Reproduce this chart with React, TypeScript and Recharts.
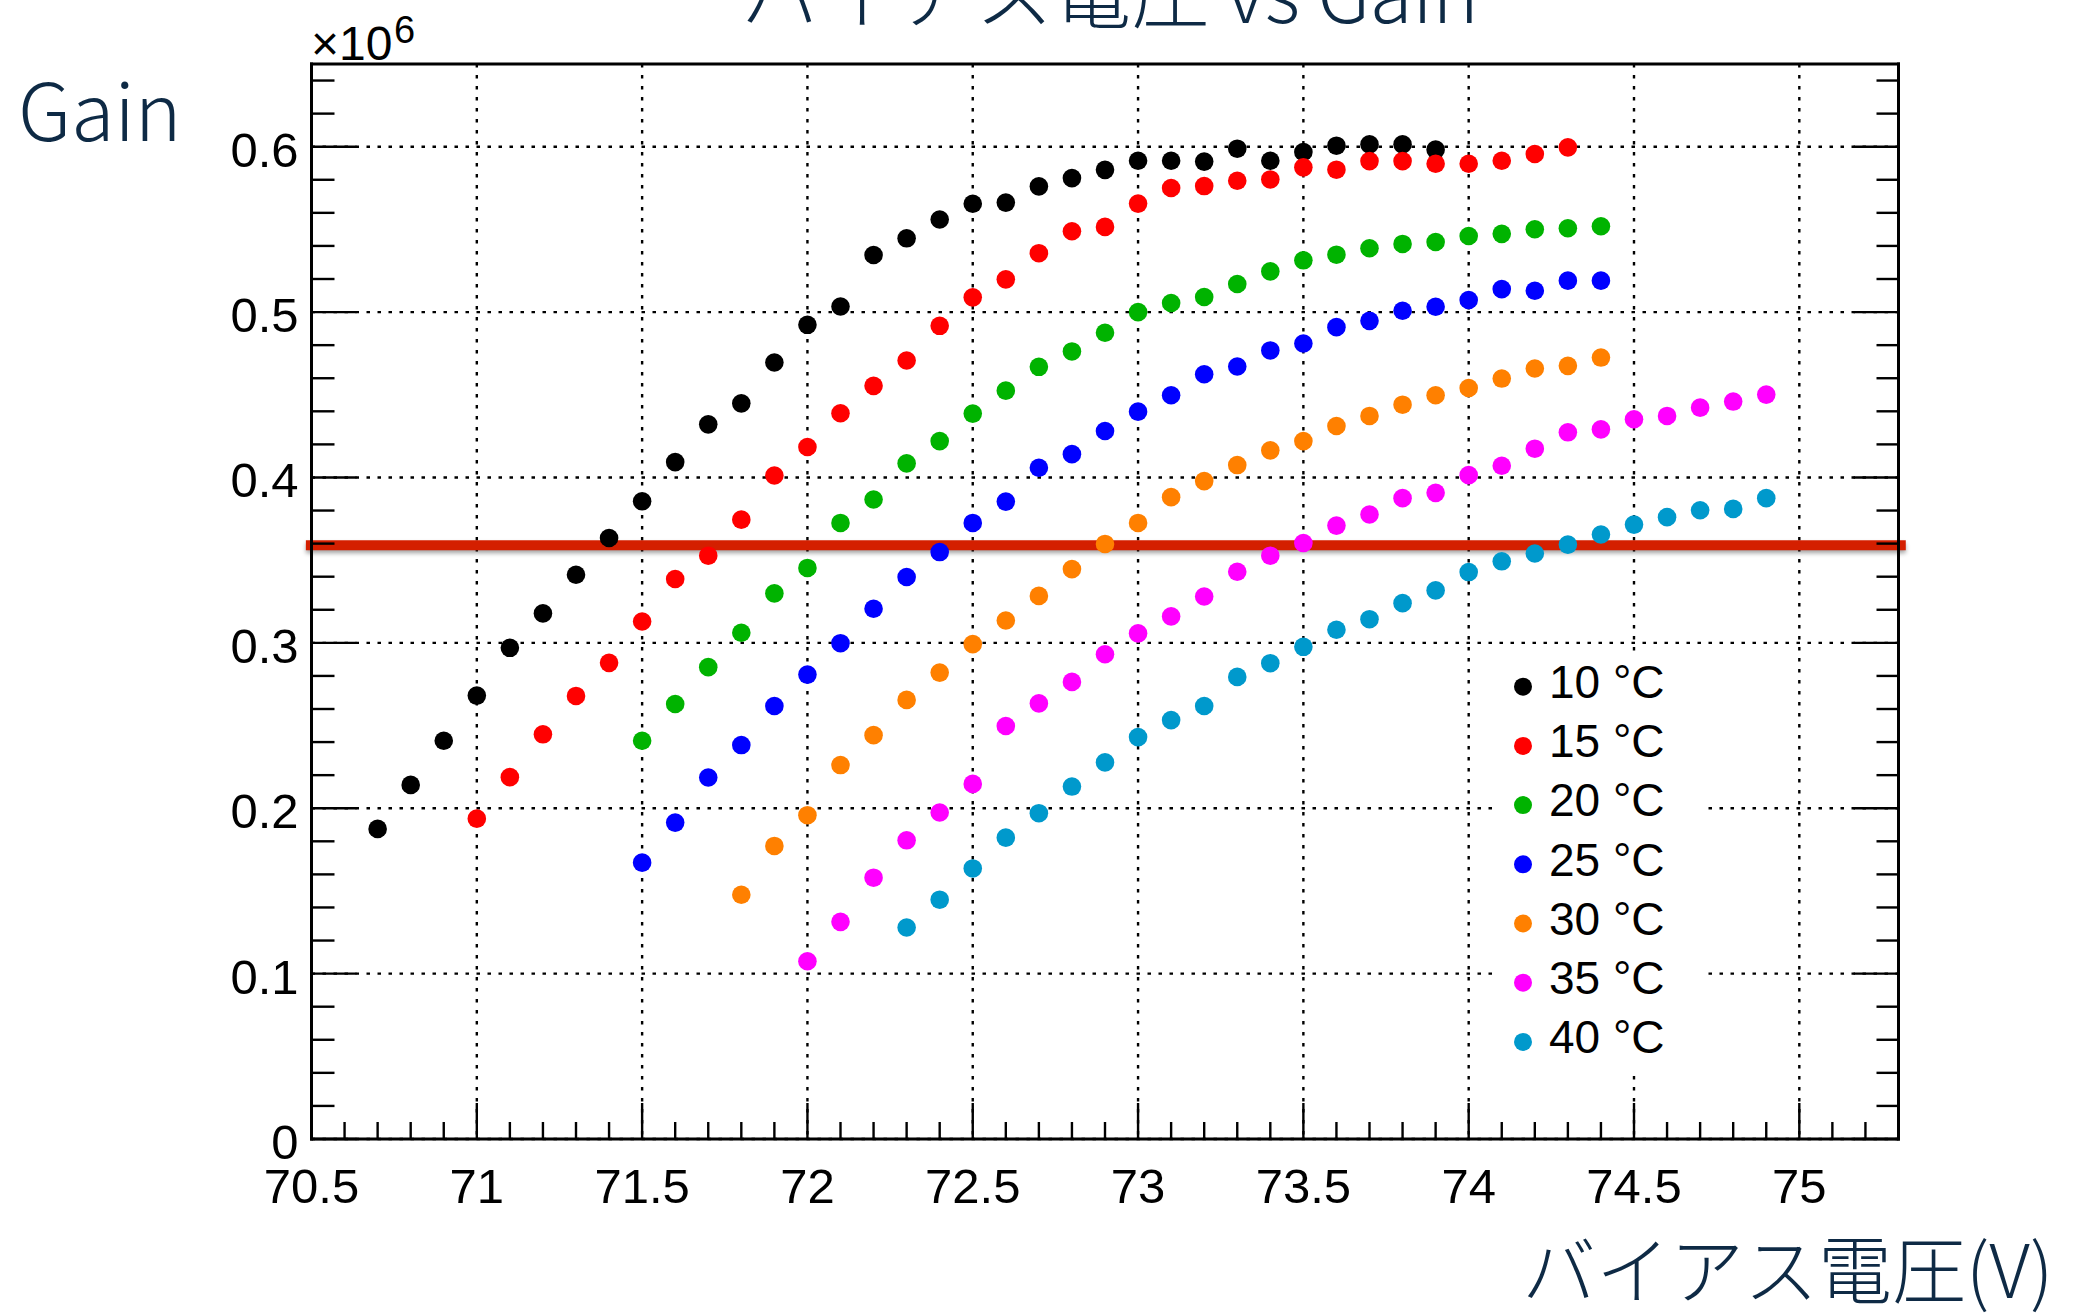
import { ScatterChart, Scatter, XAxis, YAxis, CartesianGrid, ReferenceLine } from "recharts";

// bias voltage steps shared by every temperature run (V)
const VOLTAGES = [
  70.7, 70.8, 70.9, 71.0, 71.1, 71.2, 71.3, 71.4, 71.5, 71.6, 71.7, 71.8, 71.9, 72.0, 72.1,
  72.2, 72.3, 72.4, 72.5, 72.6, 72.7, 72.8, 72.9, 73.0, 73.1, 73.2, 73.3, 73.4, 73.5, 73.6,
  73.7, 73.8, 73.9, 74.0, 74.1, 74.2, 74.3, 74.4, 74.5, 74.6, 74.7, 74.8, 74.9,
];

// gain in units of 10^6, one entry per voltage step starting at the run's first voltage
const GAIN_10C = [
  0.1875, 0.2141, 0.2408, 0.2681, 0.297, 0.3178, 0.3412, 0.3634, 0.3856, 0.4093, 0.4321,
  0.4448, 0.4695, 0.4923, 0.5034, 0.5345, 0.5446, 0.556, 0.5655, 0.5662, 0.576, 0.581,
  0.586, 0.5915, 0.5915, 0.591, 0.5988, 0.5915, 0.5968, 0.6006, 0.6014, 0.6014, 0.5982,
];
const GAIN_15C = [
  0.1937, 0.2188, 0.2447, 0.2679, 0.2879, 0.3129, 0.3386, 0.3527, 0.3745, 0.4012, 0.4184,
  0.4388, 0.4554, 0.4707, 0.4917, 0.5089, 0.5198, 0.5356, 0.5489, 0.5515, 0.5656, 0.575,
  0.5762, 0.5794, 0.5802, 0.5875, 0.5861, 0.5913, 0.5913, 0.5897, 0.5897, 0.5915, 0.5956,
  0.5996,
];
const GAIN_20C = [
  0.2408, 0.263, 0.2853, 0.3061, 0.3299, 0.3453, 0.3725, 0.3867, 0.4085, 0.422, 0.4386,
  0.4525, 0.4669, 0.4762, 0.4875, 0.5, 0.5055, 0.5091, 0.517, 0.5246, 0.5313, 0.5347,
  0.5386, 0.5412, 0.5424, 0.546, 0.5473, 0.5501, 0.5507, 0.5519,
];
const GAIN_25C = [
  0.1671, 0.1913, 0.2186, 0.2382, 0.2618, 0.2808, 0.2998, 0.3206, 0.3398, 0.3549, 0.3725,
  0.3854, 0.4059, 0.4141, 0.4281, 0.4398, 0.4497, 0.4624, 0.4671, 0.4768, 0.481, 0.4909,
  0.4947, 0.5008, 0.5032, 0.5073, 0.5139, 0.5129, 0.519, 0.519,
];
const GAIN_30C = [
  0.1477, 0.1772, 0.1958, 0.2261, 0.2442, 0.2655, 0.282, 0.2992, 0.3135, 0.3284, 0.3446,
  0.3598, 0.3725, 0.3881, 0.3978, 0.4075, 0.4164, 0.422, 0.4311, 0.4372, 0.444, 0.4497,
  0.4541, 0.4598, 0.4659, 0.4675, 0.4725,
];
const GAIN_35C = [
  0.1075, 0.1313, 0.158, 0.1806, 0.1974, 0.2147, 0.2497, 0.2634, 0.2764, 0.2931, 0.3057,
  0.316, 0.328, 0.343, 0.3527, 0.3604, 0.3709, 0.3776, 0.3875, 0.3907, 0.4014, 0.4071,
  0.4174, 0.4273, 0.4291, 0.4352, 0.4372, 0.4422, 0.4459, 0.4501,
];
const GAIN_40C = [
  0.1279, 0.1447, 0.1636, 0.1822, 0.197, 0.2131, 0.2277, 0.243, 0.2533, 0.2618, 0.2794,
  0.2877, 0.2976, 0.3079, 0.3143, 0.324, 0.3317, 0.3428, 0.3493, 0.354, 0.3594, 0.3655,
  0.3715, 0.376, 0.3802, 0.381, 0.3875,
];

const SERIES = [
  { name: "10 °C", color: "#000000", from: 70.7, gains: GAIN_10C },
  { name: "15 °C", color: "#ff0000", from: 71.0, gains: GAIN_15C },
  { name: "20 °C", color: "#00b300", from: 71.5, gains: GAIN_20C },
  { name: "25 °C", color: "#0000ff", from: 71.5, gains: GAIN_25C },
  { name: "30 °C", color: "#ff8000", from: 71.8, gains: GAIN_30C },
  { name: "35 °C", color: "#ff00ff", from: 72.0, gains: GAIN_35C },
  { name: "40 °C", color: "#0099cc", from: 72.3, gains: GAIN_40C },
];

const X_DOMAIN = [70.5, 75.3];
const Y_DOMAIN = [0, 0.65];
const X_MAJOR = [70.5, 71, 71.5, 72, 72.5, 73, 73.5, 74, 74.5, 75];
const Y_MAJOR = [0, 0.1, 0.2, 0.3, 0.4, 0.5, 0.6];

// target gain marked across the plot
const TARGET_GAIN = 0.359;
const TARGET_SPAN = [70.483, 75.322];

const W = 2079;
const H = 1314;
const NUM_FONT = '"Liberation Sans", Arial, Helvetica, sans-serif';
const JP_FONT = '"Noto Sans CJK JP", "Noto Sans", sans-serif';
const NAVY = "#0e2a45";

const round = (v: number, d: number) => Math.round(v * 10 ** d) / 10 ** d;
const xTicks: number[] = [];
for (let i = 0; i <= 48; i++) xTicks.push(round(X_DOMAIN[0] + i * 0.1, 1));
const yTicks: number[] = [];
for (let i = 0; i <= 32; i++) yTicks.push(round(i * 0.02, 2));

const isXMajor = (v: number) => X_MAJOR.some((m) => Math.abs(m - v) < 1e-6);
const isYMajor = (v: number) => Y_MAJOR.some((m) => Math.abs(m - v) < 1e-6);

const seriesData = SERIES.map((s) => {
  const start = VOLTAGES.indexOf(s.from);
  return s.gains.map((g, i) => ({ v: VOLTAGES[start + i], g }));
});

const TICK_STROKE = 2.4;

function BottomTick(props: any) {
  const { x, y, payload } = props;
  const major = isXMajor(payload.value);
  return (
    <g>
      <line x1={x} y1={y} x2={x} y2={y - (major ? 36 : 17)} stroke="#000" strokeWidth={TICK_STROKE} />
      {major && (
        <text x={x} y={y + 64} textAnchor="middle" fontSize={49} fontFamily={NUM_FONT} fill="#000">
          {String(payload.value)}
        </text>
      )}
    </g>
  );
}

function TopTick(props: any) {
  const { x, y, payload } = props;
  const major = isXMajor(payload.value);
  return <line x1={x} y1={y} x2={x} y2={y + (major ? 35 : 16)} stroke="#000" strokeWidth={TICK_STROKE} />;
}

function LeftTick(props: any) {
  const { x, y, payload } = props;
  const major = isYMajor(payload.value);
  return (
    <g>
      <line x1={x} y1={y} x2={x + (major ? 45 : 23)} y2={y} stroke="#000" strokeWidth={TICK_STROKE} />
      {major && (
        <text x={x - 13} y={y + 20} textAnchor="end" fontSize={49} fontFamily={NUM_FONT} fill="#000">
          {String(round(payload.value, 1))}
        </text>
      )}
    </g>
  );
}

function RightTick(props: any) {
  const { x, y, payload } = props;
  const major = isYMajor(payload.value);
  return <line x1={x} y1={y} x2={x - (major ? 45 : 22)} y2={y} stroke="#000" strokeWidth={TICK_STROKE} />;
}

const frameLine = { stroke: "#000", strokeWidth: 3, strokeLinecap: "square" as const };

function Legend() {
  const rowGap = 59.2;
  return (
    <svg
      width={210}
      height={420}
      style={{ position: "absolute", left: 1497, top: 653, pointerEvents: "none" }}
    >
      <rect x={0} y={0} width={210} height={420} fill="#fff" />
      {SERIES.map((s, i) => (
        <g key={s.name}>
          <circle cx={26} cy={33.7 + i * rowGap} r={9} fill={s.color} />
          <text x={52} y={45 + i * rowGap} fontSize={46} fontFamily={NUM_FONT} fill="#000">
            {s.name}
          </text>
        </g>
      ))}
    </svg>
  );
}

function Labels() {
  return (
    <svg width={W} height={H} style={{ position: "absolute", left: 0, top: 0, pointerEvents: "none" }}>
      <text x={1110} y={23} textAnchor="middle" fontSize={78} fontWeight={300} fontFamily={JP_FONT} fill={NAVY}>
        バイアス電圧 vs Gain
      </text>
      <text x={18} y={141} fontSize={79} fontWeight={300} fontFamily={JP_FONT} fill={NAVY}>
        Gain
      </text>
      <text x={1522} y={1298} fontSize={74} fontWeight={300} fontFamily={JP_FONT} fill={NAVY}>
        バイアス電圧(V)
      </text>
      <text x={311} y={60} fontSize={48} fontFamily={NUM_FONT} fill="#000">
        ×10
      </text>
      <text x={394} y={43} fontSize={38} fontFamily={NUM_FONT} fill="#000">
        6
      </text>
    </svg>
  );
}

export default function App() {
  return (
    <div
      style={{
        position: "absolute",
        left: 0,
        top: 0,
        width: W,
        height: H,
        background: "#fff",
        overflow: "hidden",
      }}
    >
      <ScatterChart
        width={W}
        height={H}
        margin={{ top: 34, right: 150.5, bottom: 95, left: 211.5 }}
      >
        <CartesianGrid
          xAxisId="x"
          yAxisId="y"
          verticalValues={X_MAJOR}
          horizontalValues={Y_MAJOR}
          stroke="#000"
          strokeWidth={2.4}
          strokeDasharray="3.5 7.5"
        />
        <XAxis
          xAxisId="x"
          type="number"
          dataKey="v"
          orientation="bottom"
          domain={X_DOMAIN}
          ticks={xTicks}
          interval={0}
          height={80}
          tickSize={0}
          tickMargin={0}
          tickLine={false}
          axisLine={frameLine}
          tick={BottomTick}
          allowDataOverflow
        />
        <XAxis
          xAxisId="xt"
          type="number"
          orientation="top"
          domain={X_DOMAIN}
          ticks={xTicks}
          interval={0}
          height={30}
          tickSize={0}
          tickMargin={0}
          tickLine={false}
          axisLine={frameLine}
          tick={TopTick}
          allowDataOverflow
        />
        <YAxis
          yAxisId="y"
          type="number"
          dataKey="g"
          orientation="left"
          domain={Y_DOMAIN}
          ticks={yTicks}
          interval={0}
          width={100}
          tickSize={0}
          tickMargin={0}
          tickLine={false}
          axisLine={frameLine}
          tick={LeftTick}
          allowDataOverflow
        />
        <YAxis
          yAxisId="yr"
          type="number"
          orientation="right"
          domain={Y_DOMAIN}
          ticks={yTicks}
          interval={0}
          width={30}
          tickSize={0}
          tickMargin={0}
          tickLine={false}
          axisLine={frameLine}
          tick={RightTick}
          allowDataOverflow
        />
        {SERIES.map((s, i) => (
          <Scatter
            key={s.name}
            name={s.name}
            data={seriesData[i]}
            xAxisId="x"
            yAxisId="y"
            fill={s.color}
            isAnimationActive={false}
            shape={(p: any) => <circle cx={p.cx} cy={p.cy} r={9.3} fill={s.color} />}
          />
        ))}
        <ReferenceLine
          xAxisId="x"
          yAxisId="y"
          segment={[
            { x: TARGET_SPAN[0], y: TARGET_GAIN },
            { x: TARGET_SPAN[1], y: TARGET_GAIN },
          ]}
          ifOverflow="visible"
          stroke="#d41f00"
          strokeWidth={10}
          style={{ filter: "drop-shadow(0px 3px 2px rgba(0,0,0,0.35))" }}
        />
      </ScatterChart>
      <Legend />
      <Labels />
    </div>
  );
}
